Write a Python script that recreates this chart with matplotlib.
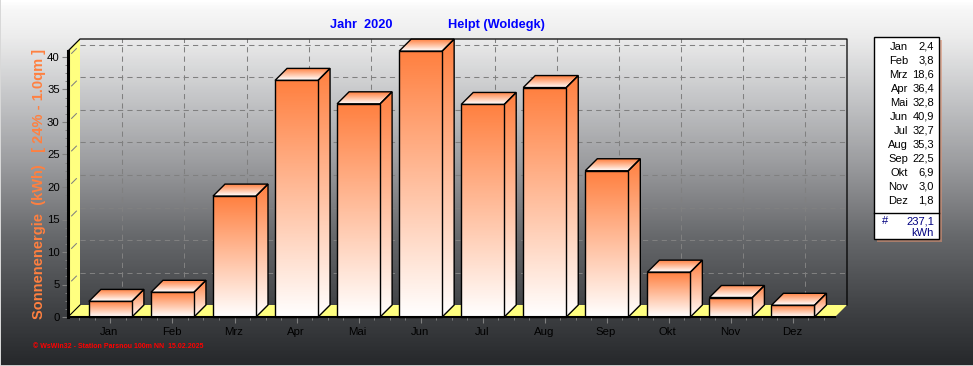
import numpy as np
import matplotlib
matplotlib.use("Agg")
import matplotlib.pyplot as plt
from matplotlib.colors import LinearSegmentedColormap
from matplotlib.patches import Polygon, Rectangle
from matplotlib.transforms import ScaledTranslation

plt.rcParams['font.family'] = ['Liberation Sans', 'DejaVu Sans']

# Daten
monate = ['Jan', 'Feb', 'Mrz', 'Apr', 'Mai', 'Jun', 'Jul', 'Aug', 'Sep', 'Okt', 'Nov', 'Dez']
werte = [2.4, 3.8, 18.6, 36.4, 32.8, 40.9, 32.7, 35.3, 22.5, 6.9, 3.0, 1.8]
werte_text = ['2,4', '3,8', '18,6', '36,4', '32,8', '40,9', '32,7', '35,3', '22,5', '6,9', '3,0', '1,8']
summe = '237,1'
y_ticks = [0, 5, 10, 15, 20, 25, 30, 35, 40]

W, H = 973, 366
fig = plt.figure(figsize=(W / 100, H / 100), dpi=100)

# Hintergrund, ganze Figur in Pixeln
bg = fig.add_axes([0, 0, 1, 1])
bg.set_xlim(0, W)
bg.set_ylim(H, 0)
bg.axis('off')
grau = LinearSegmentedColormap.from_list('grau', [
    (0.0, '#ffffff'), (0.02, '#f8f8f8'), (0.10, '#ececec'), (0.25, '#c8c9cb'),
    (0.45, '#9a9b9e'), (0.65, '#66686b'), (0.85, '#3f4144'), (1.0, '#26282b')])
bg.imshow(np.linspace(0, 1, 366).reshape(-1, 1), extent=(0, W, H, 0), cmap=grau,
          vmin=0, vmax=1, aspect='auto', zorder=0)
bg.add_patch(Rectangle((0, H - 1.5), W, 1.5, fc='#c8c8c8', ec='none', zorder=1))
bg.add_patch(Rectangle((0, 0), 1, H, fc='#d8d8d8', ec='none', zorder=1))

# Diagramm-Achse: vordere Ebene
X0, X1, Y0, YT = 68, 835, 317, 51
XM = 110.4  # Pixel der ersten Kategorie
PX_X = 62.05
PX_Y = 6.5
DEPTH = 12
ax = fig.add_axes([X0 / W, 1 - Y0 / H, (X1 - X0) / W, (Y0 - YT) / H])
ax.patch.set_alpha(0)
ax.set_xlim((X0 - XM) / PX_X, (X1 - XM) / PX_X)
ax.set_ylim(0, (Y0 - YT) / PX_Y)
dx = DEPTH / PX_X
dy = DEPTH / PX_Y
xa, xb = ax.get_xlim()
ya, yb = ax.get_ylim()

orange = LinearSegmentedColormap.from_list('orange', ['#ff8040', '#ffffff'])


def verlauf(punkte, zorder=3):
    # Polygon mit senkrechtem Verlauf, oben orange, unten weiss
    punkte = np.array(punkte)
    poly = Polygon(punkte, closed=True, fc='none', ec='black', lw=1.0, zorder=zorder + 0.1,
                   clip_on=False, joinstyle='miter')
    ax.add_patch(poly)
    g = np.linspace(0, 1, 200).reshape(-1, 1)
    im = ax.imshow(g, extent=(punkte[:, 0].min(), punkte[:, 0].max(), punkte[:, 1].min(), punkte[:, 1].max()),
                   origin='upper', cmap=orange, vmin=0, vmax=1, aspect='auto', zorder=zorder)
    im.set_clip_box(fig.bbox)
    im.set_clip_path(poly)


# Wand links und Boden
ax.add_patch(Polygon([(xa, ya), (xa + dx, ya + dy), (xa + dx, yb + dy), (xa, yb)],
                     fc='#ffff80', ec='none', zorder=1, clip_on=False))
ax.add_patch(Polygon([(xa, ya), (xa + dx, ya + dy), (xb + dx, ya + dy), (xb, ya)],
                     fc='#ffff80', ec='none', zorder=1, clip_on=False))

# Raster Rueckwand
for t in y_ticks[1:]:
    ax.plot([xa + dx, xb + dx], [t + dy, t + dy], color='#808080', lw=0.75, ls=(0, (5, 4)), zorder=0.5, clip_on=False)
    ax.plot([xa + 0.3 * dx, xa + 0.7 * dx], [t + 0.3 * dy, t + 0.7 * dy], color='#808080', lw=0.75, zorder=1.5, clip_on=False)
for i in range(len(monate)):
    ax.plot([i + dx, i + dx], [ya + dy, yb + dy], color='#808080', lw=0.75, ls=(0, (5, 4)), zorder=0.5, clip_on=False)

# Rahmen
ax.plot([xa, xa + dx, xb + dx, xb + dx], [yb, yb + dy, yb + dy, ya + dy], color='black', lw=0.9, zorder=1.6, clip_on=False)
ax.plot([xa, xa + dx], [ya, ya + dy], color='black', lw=0.8, zorder=1.6, clip_on=False)

b = 21.5 / PX_X
for i, v in enumerate(werte):
    z = 3 + i
    # Seite
    verlauf([(i + b, 0), (i + b + dx, dy), (i + b + dx, v + dy), (i + b, v)], zorder=z)
    # Deckel, vorne weiss
    verlauf([(i - b, v), (i + b, v), (i + b + dx, v + dy), (i - b + dx, v + dy)], zorder=z)
    # Vorderseite
    verlauf([(i - b, 0), (i + b, 0), (i + b, v), (i - b, v)], zorder=z + 0.2)

ax.set_xlim(xa, xb)
ax.set_ylim(ya, yb)

# Achsen
for s in ['top', 'right']:
    ax.spines[s].set_visible(False)
ax.spines['left'].set_linewidth(2.2)
ax.spines['bottom'].set_linewidth(1.5)
ax.spines['left'].set_zorder(30)
ax.spines['bottom'].set_zorder(30)
ax.set_yticks(y_ticks)
ax.set_yticks(np.arange(0, 41, 1.25), minor=True)
ax.set_xticks(range(len(monate)))
ax.set_xticklabels(monate)
ax.set_xticks(np.arange(-0.5, 11.6, 0.25), minor=True)
ax.tick_params(axis='both', which='major', length=4, width=0.8, color='#808080', labelsize=8.2, labelcolor='black')
ax.tick_params(axis='both', which='minor', length=2, width=0.7, color='#808080')
ax.tick_params(axis='x', which='major', pad=3)
ax.tick_params(axis='y', which='major', pad=2)
for lab in ax.get_xticklabels():
    lab.set_transform(lab.get_transform() + ScaledTranslation(-1 / 100, 0, fig.dpi_scale_trans))

# Texte
bg.text(361.5, 28, 'Jahr  2020', color='#0000ff', fontsize=9.2, fontweight='bold', ha='center', va='baseline')
bg.text(496.5, 28, 'Helpt (Woldegk)', color='#0000ff', fontsize=9.2, fontweight='bold', ha='center', va='baseline')
bg.text(39, 184, 'Sonnenenergie  (kWh)   [ 24% - 1.0qm ]', color='#ff8040', fontsize=10.5, fontweight='bold',
        rotation=90, ha='center', va='center')
bg.text(33, 347, '© WsWin32 - Station Parsnou 100m NN  15.02.2025', color='#ff0000', fontsize=5.0,
        fontweight='bold', ha='left', va='center')

# Legende rechts
bg.add_patch(Rectangle((877, 40), 65, 202, fc='#d98f70', ec='none', alpha=0.6, zorder=5))
bg.add_patch(Rectangle((874, 37), 65, 202, fc='white', ec='black', lw=1, zorder=6))
bg.plot([874, 939], [213, 213], color='black', lw=1, zorder=7)
for i, (m, t) in enumerate(zip(monate, werte_text)):
    yy = 46.5 + i * 14
    bg.text(908, yy, m, fontsize=8, ha='right', va='center', zorder=8)
    bg.text(934, yy, t, fontsize=8, ha='right', va='center', zorder=8)
bg.text(885, 221, '#', color='#000080', fontsize=8, ha='center', va='center', zorder=8)
bg.text(934, 221, summe, color='#000080', fontsize=8, ha='right', va='center', zorder=8)
bg.text(934, 233, 'kWh', color='#000080', fontsize=8, ha='right', va='center', zorder=8)

fig.savefig('out.png', dpi=100)
